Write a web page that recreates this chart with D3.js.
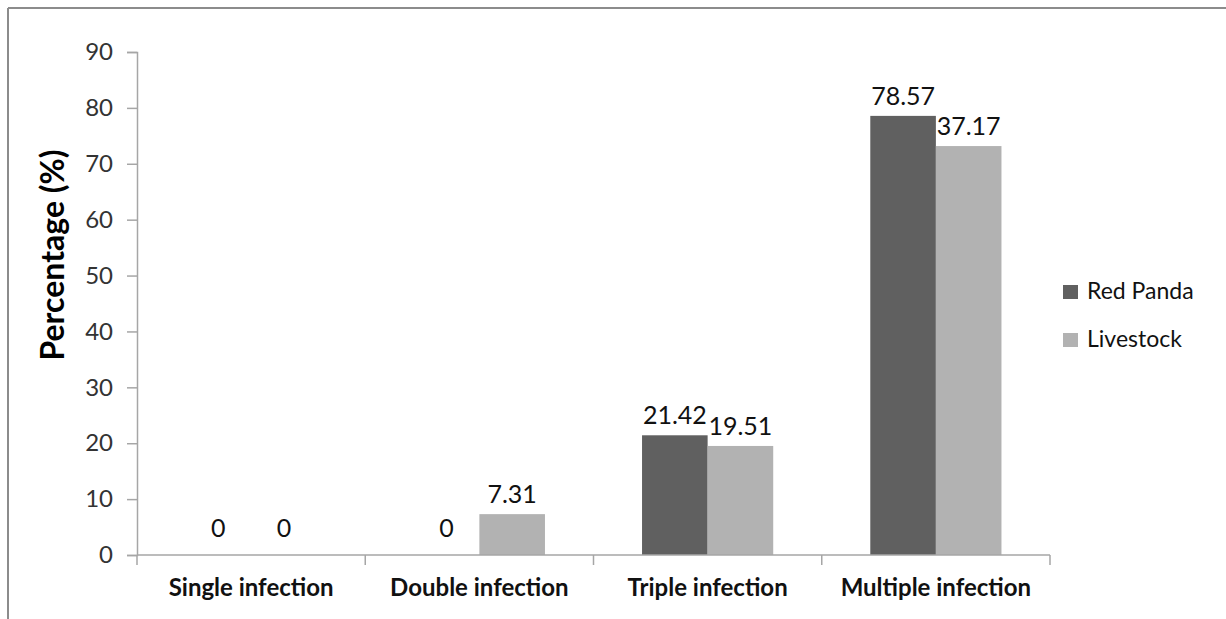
<!DOCTYPE html>
<html>
<head>
<meta charset="utf-8">
<script src="https://cdn.jsdelivr.net/npm/d3@7"></script>
<style>
  body { margin: 0; background: #fff; }
  svg { display: block; }
</style>
</head>
<body>
<div id="chart"></div>
<script>
// categories and series
var categories = ["Single infection", "Double infection", "Triple infection", "Multiple infection"]
var seriesNames = ["Red Panda", "Livestock"]
var redPanda = [0, 0, 21.42, 78.57]
var livestock = [0, 7.31, 19.51, 73.17]
// labels as printed on the original (last livestock label reads 37.17)
var redPandaLabels = ["0", "0", "21.42", "78.57"]
var livestockLabels = ["0", "7.31", "19.51", "37.17"]
var yTicks = [0, 10, 20, 30, 40, 50, 60, 70, 80, 90]

function drawChart() {
  var colors = ["#606060", "#b2b2b2"]
  var width = 1226, height = 619
  var font = "Lato, 'Open Sans', sans-serif"

  var svg = d3.select("#chart").append("svg")
    .attr("width", width).attr("height", height)

  // outer frame (only top and left edges show)
  svg.append("line").attr("x1", 8).attr("x2", width).attr("y1", 8).attr("y2", 8)
    .attr("stroke", "#8c8c8c").attr("stroke-width", 2)
  svg.append("line").attr("x1", 8).attr("x2", 8).attr("y1", 8).attr("y2", height)
    .attr("stroke", "#8c8c8c").attr("stroke-width", 2)

  var plotLeft = 137, plotRight = 1050, plotTop = 52, plotBottom = 555

  var xScale = d3.scaleBand().domain(categories).range([plotLeft, plotRight])
  var yScale = d3.scaleLinear().domain([0, 90]).range([plotBottom, plotTop])
  var inner = d3.scaleBand().domain(seriesNames)
    .range([0, xScale.bandwidth()]).paddingOuter(0.74).paddingInner(0)

  // y axis
  var yAxis = svg.append("g")
    .attr("transform", "translate(" + plotLeft + ",0)")
    .call(d3.axisLeft(yScale).tickValues(yTicks).tickSize(10).tickPadding(14))
  yAxis.select(".domain").attr("stroke", "#a6a6a6").attr("stroke-width", 1.5)
  yAxis.selectAll(".tick line").attr("stroke", "#a6a6a6").attr("stroke-width", 1.5)
  yAxis.selectAll("text")
    .attr("font-family", font).attr("font-size", "24px").attr("fill", "#333")

  // bars
  var flat = []
  categories.forEach(function(c, i) {
    flat.push({cat: c, name: seriesNames[0], v: redPanda[i], label: redPandaLabels[i]})
    flat.push({cat: c, name: seriesNames[1], v: livestock[i], label: livestockLabels[i]})
  })

  svg.selectAll(".bar")
    .data(flat)
    .enter().append("rect")
    .attr("class", "bar")
    .attr("x", function(d) { return xScale(d.cat) + inner(d.name) })
    .attr("y", function(d) { return yScale(d.v) })
    .attr("width", inner.bandwidth())
    .attr("height", function(d) { return plotBottom - yScale(d.v) })
    .attr("fill", function(d) { return d.name == "Red Panda" ? colors[0] : colors[1] })

  // x axis (drawn over the bars)
  var xAxis = svg.append("g")
    .attr("transform", "translate(0," + plotBottom + ")")
  xAxis.append("line").attr("x1", plotLeft).attr("x2", plotRight).attr("y1", 0).attr("y2", 0)
    .attr("stroke", "#a6a6a6").attr("stroke-width", 1.5)
  var bounds = categories.map(function(c) { return xScale(c) }).concat([plotRight])
  xAxis.selectAll(".xtick")
    .data(bounds)
    .enter().append("line")
    .attr("x1", function(d) { return d }).attr("x2", function(d) { return d })
    .attr("y1", 0).attr("y2", 10)
    .attr("stroke", "#a6a6a6").attr("stroke-width", 1.5)
  xAxis.selectAll(".catLabel")
    .data(categories)
    .enter().append("text")
    .attr("x", function(d) { return xScale(d) + xScale.bandwidth() / 2 })
    .attr("y", 41)
    .attr("text-anchor", "middle")
    .attr("font-family", font).attr("font-size", "24px").attr("font-weight", "bold")
    .attr("fill", "#111")
    .text(function(d) { return d })

  // value labels
  svg.selectAll(".valLabel")
    .data(flat)
    .enter().append("text")
    .attr("x", function(d) { return xScale(d.cat) + inner(d.name) + inner.bandwidth() / 2 })
    .attr("y", function(d) { return yScale(d.v) - (d.v == 0 ? 18 : 11) })
    .attr("text-anchor", "middle")
    .attr("font-family", font).attr("font-size", "25px").attr("fill", "#111")
    .text(function(d) { return d.label })

  // y title
  svg.append("text")
    .attr("transform", "translate(64,255) rotate(-90)")
    .attr("text-anchor", "middle")
    .attr("font-family", font).attr("font-size", "32px").attr("font-weight", "bold")
    .attr("fill", "#000")
    .text("Percentage (%)")

  // legend
  var legend = svg.selectAll(".legend")
    .data(seriesNames)
    .enter().append("g")
    .attr("transform", function(d, i) { return "translate(1063," + (285 + i * 48) + ")" })
  legend.append("rect").attr("width", 15).attr("height", 14)
    .attr("fill", function(d, i) { return colors[i] })
  legend.append("text").attr("x", 24).attr("y", 14)
    .attr("font-family", font).attr("font-size", "23px").attr("fill", "#111")
    .text(function(d) { return d })
}

drawChart()
</script>
</body>
</html>
